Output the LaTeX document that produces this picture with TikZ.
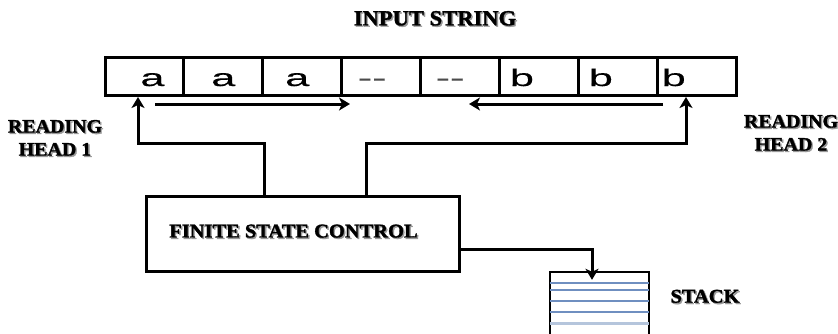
\documentclass[tikz,border=0pt]{standalone}
\usepackage{fontspec}
\usetikzlibrary{arrows.meta,calc}
\newfontfamily\lblfont{Liberation Serif}[UprightFont={* Bold},FakeBold=1.6,FakeStretch=1.05]
\newfontfamily\tapefont{Liberation Sans}[FakeStretch=1.8,FakeBold=0.4]
\definecolor{stackblue}{HTML}{6F8FC0}
\definecolor{stacklight}{HTML}{B5C5DC}
\newcommand\shtx[1]{\leavevmode\rlap{\kern1.4pt\raisebox{-1.4pt}{\textcolor{black!40}{#1}}}#1}
\newcommand\tapetx[2]{\makebox[0pt][c]{\hspace*{#1}#2}}
\begin{document}
\begin{tikzpicture}[x=1pt,y=-1pt,line width=3pt,
  cell/.style={draw,minimum width=78.9pt,minimum height=38pt,inner sep=0pt,outer sep=0pt,
     text height=20pt,text depth=0pt,font=\tapefont\fontsize{24}{24}\selectfont},
  lbl/.style={font=\lblfont\fontsize{19}{23}\selectfont,align=center,inner sep=0pt},
  arr/.style={-{Stealth[length=11pt,width=13pt,inset=3pt]}},
  stackline/.style={line width=1.8pt,stackblue}]
\clip (0,0) rectangle (838,333);
\fill[white] (0,0) rectangle (838,333);

% tape
\node[cell] (c1) at (144.45,76) {\tapetx{16pt}{a}};
\node[cell] (c2) at (223.35,76) {\tapetx{0pt}{a}};
\node[cell] (c3) at (302.25,76) {\tapetx{-10pt}{a}};
\node[cell] (c4) at (381.15,76) {\tapetx{-18pt}{\textcolor{black!70}{-{}-}}};
\node[cell] (c5) at (460.05,76) {\tapetx{-20pt}{\textcolor{black!70}{-{}-}}};
\node[cell] (c6) at (538.95,76) {\tapetx{-34pt}{b}};
\node[cell] (c7) at (617.85,76) {\tapetx{-34pt}{b}};
\node[cell] (c8) at (696.75,76) {\tapetx{-46pt}{b}};

% labels
\node[lbl,font=\lblfont\fontsize{21.5}{23}\selectfont] (title) at (435,19) {\shtx{INPUT STRING}};
\node[lbl] (rh1) at (55,138.5) {\shtx{READING}\\\shtx{HEAD 1}};
\node[lbl] (rh2) at (791,133.5) {\shtx{READING}\\\shtx{HEAD 2}};

% finite state control
\node[draw,minimum width=313pt,minimum height=75pt,inner sep=0pt,
      font=\lblfont\fontsize{19.5}{19.5}\selectfont] (fsc) at (302.5,233.5)
      {\hspace*{-18pt}\raisebox{5pt}{\shtx{FINITE STATE CONTROL}}};

% stack
\node[draw,line width=2.4pt,minimum width=99pt,minimum height=68pt,inner sep=0pt] (stack) at (599.5,306) {};
\foreach \yy in {283,290,301,312}
  \draw[stackline] ($(stack.west |- 0,\yy)+(1,0)$) -- ($(stack.east |- 0,\yy)+(-1,0)$);
\draw[stackline,stacklight,line width=2.2pt] ($(stack.west |- 0,323.5)+(1,0)$) -- ($(stack.east |- 0,323.5)+(-1,0)$);
\node[lbl,font=\lblfont\fontsize{19.5}{23}\selectfont] (stacklbl) at (705,297) {\shtx{STACK}};

% reading head connectors
\coordinate (k1) at (264,143);
\coordinate (k2) at (138,143);
\draw[arr] (fsc.north -| k1) -- (k1) -- (k2) -- ($(c1.south -| k2)+(0,2)$);
\coordinate (k3) at (366,143);
\coordinate (k4) at (686,143);
\draw[arr] (fsc.north -| k3) -- (k3) -- (k4) -- ($(c8.south -| k4)+(0,2)$);

% movement arrows
\coordinate (m1) at (155,104);
\coordinate (m2) at (350,104);
\draw[arr] (m1) -- (m2);
\coordinate (m3) at (663,104);
\coordinate (m4) at (469,104);
\draw[arr] (m3) -- (m4);

% stack connector
\coordinate (s1) at (592,249);
\draw[arr] (fsc.east |- s1) -- (s1) -- ($(stack.north -| s1)+(0,9)$);
\end{tikzpicture}
\end{document}
